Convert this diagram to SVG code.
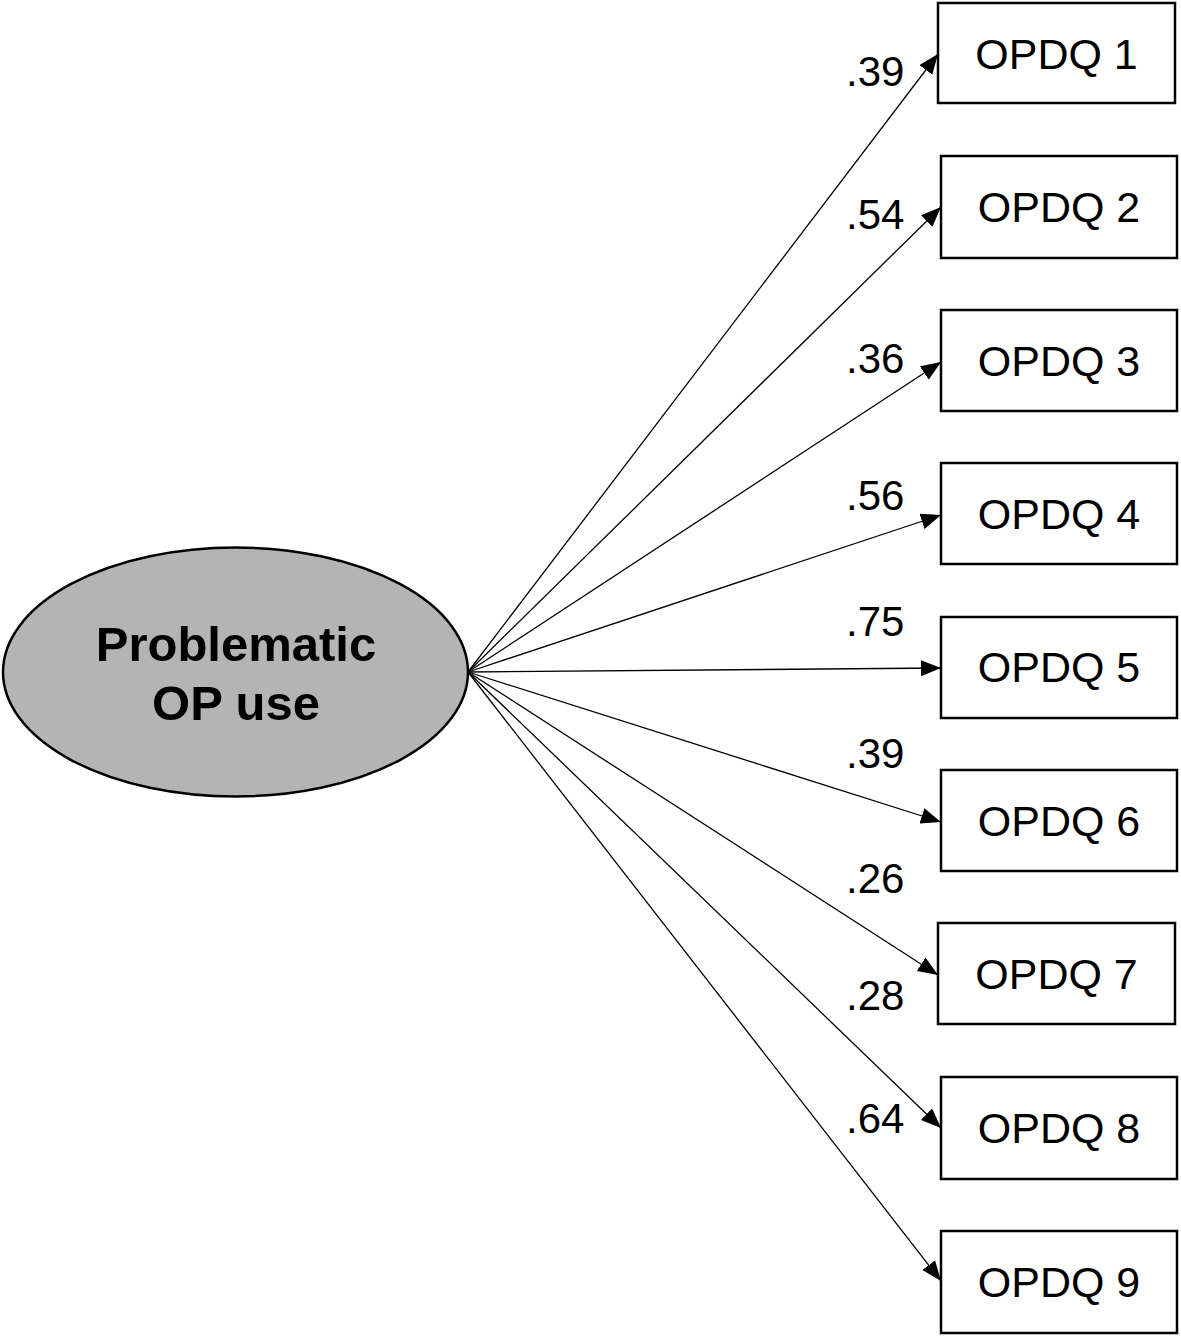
<svg xmlns="http://www.w3.org/2000/svg" width="1181" height="1336" viewBox="0 0 1181 1336">
<style>
.box{fill:#fff;stroke:#000;stroke-width:2.5}
.bt{font-family:"Liberation Sans",Arial,sans-serif;font-size:43px;text-anchor:middle;fill:#000}
.lbl{font-family:"Liberation Sans",Arial,sans-serif;font-size:42px;fill:#000}
.edge{stroke:#000;stroke-width:1.3;fill:none;marker-end:url(#ah)}
.lat{font-family:"Liberation Sans",Arial,sans-serif;font-size:49px;font-weight:bold;text-anchor:middle;fill:#000}
</style>
<defs>
<marker id="ah" markerUnits="userSpaceOnUse" markerWidth="22" markerHeight="18" refX="20" refY="8" orient="auto">
<path d="M0,0 L20,8 L0,16 z" fill="#000"/>
</marker>
</defs>
<rect width="1181" height="1336" fill="#fff"/>
<g id="connectors">
<line class="edge" x1="468" y1="672" x2="938" y2="54"/>
<line class="edge" x1="468" y1="672" x2="941" y2="207"/>
<line class="edge" x1="468" y1="672" x2="941" y2="362"/>
<line class="edge" x1="468" y1="672" x2="941" y2="515"/>
<line class="edge" x1="468" y1="672" x2="941" y2="668"/>
<line class="edge" x1="468" y1="672" x2="941" y2="822"/>
<line class="edge" x1="468" y1="672" x2="938" y2="975"/>
<line class="edge" x1="468" y1="672" x2="941" y2="1128"/>
<line class="edge" x1="468" y1="672" x2="941" y2="1281"/>
</g>
<g id="labels">
<text class="lbl" x="846" y="86">.39</text>
<text class="lbl" x="846" y="229">.54</text>
<text class="lbl" x="846" y="373">.36</text>
<text class="lbl" x="846" y="510">.56</text>
<text class="lbl" x="846" y="636">.75</text>
<text class="lbl" x="846" y="768">.39</text>
<text class="lbl" x="846" y="893">.26</text>
<text class="lbl" x="846" y="1010">.28</text>
<text class="lbl" x="846" y="1133">.64</text>
</g>
<g id="latent">
<ellipse cx="235.5" cy="672" rx="232.5" ry="124.5" fill="#b4b4b4" stroke="#000" stroke-width="2.5"/>
<text class="lat" x="236" y="661">Problematic</text>
<text class="lat" x="236" y="720">OP use</text>
</g>
<g id="opdq1"><rect class="box" x="938" y="3" width="237" height="100"/><text class="bt" x="1056.5" y="69">OPDQ 1</text></g>
<g id="opdq2"><rect class="box" x="941" y="156" width="236" height="102"/><text class="bt" x="1059" y="222">OPDQ 2</text></g>
<g id="opdq3"><rect class="box" x="941" y="310" width="236" height="101"/><text class="bt" x="1059" y="376">OPDQ 3</text></g>
<g id="opdq4"><rect class="box" x="941" y="463" width="236" height="101"/><text class="bt" x="1059" y="529">OPDQ 4</text></g>
<g id="opdq5"><rect class="box" x="941" y="617" width="236" height="101"/><text class="bt" x="1059" y="682">OPDQ 5</text></g>
<g id="opdq6"><rect class="box" x="941" y="770" width="236" height="101"/><text class="bt" x="1059" y="836">OPDQ 6</text></g>
<g id="opdq7"><rect class="box" x="938" y="923" width="237" height="101"/><text class="bt" x="1056.5" y="989">OPDQ 7</text></g>
<g id="opdq8"><rect class="box" x="941" y="1077" width="236" height="102"/><text class="bt" x="1059" y="1143">OPDQ 8</text></g>
<g id="opdq9"><rect class="box" x="941" y="1231" width="236" height="102"/><text class="bt" x="1059" y="1297">OPDQ 9</text></g>
</svg>
